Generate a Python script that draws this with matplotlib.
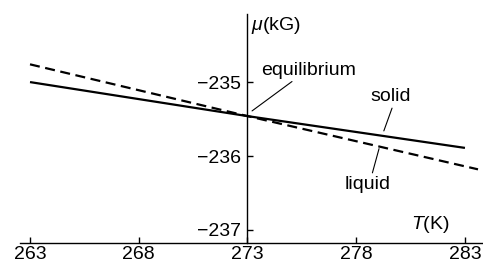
import matplotlib
matplotlib.use("Agg")
import matplotlib.pyplot as plt

plt.rcParams['font.family'] = ['Liberation Sans', 'DejaVu Sans']
plt.rcParams['mathtext.fontset'] = 'custom'
plt.rcParams['mathtext.it'] = 'Liberation Sans:italic'
plt.rcParams['mathtext.rm'] = 'Liberation Sans'

T_solid = [263, 273, 283]
mu_solid = [-235.00, -235.46, -235.89]
T_liquid = [263, 273, 283.6]
mu_liquid = [-234.76, -235.46, -236.18]
xticks = [263, 268, 273, 278, 283]
yticks = [-235, -236, -237]
ytick_labels = ['\u2212235', '\u2212236', '\u2212237']

fig = plt.figure(figsize=(4.83, 2.64), dpi=100)
ax = fig.add_axes([0, 0, 1, 1])
ax.set_xlim(261.62, 283.83)
ax.set_ylim(-237.46, -233.89)

ax.plot(T_solid, mu_solid, color='black', lw=1.6, solid_capstyle='butt')
ax.plot(T_liquid, mu_liquid, color='black', lw=1.6, dashes=(4.5, 2.5))

ax.spines['right'].set_visible(False)
ax.spines['top'].set_visible(False)
ax.spines['left'].set_position(('data', 273))
ax.spines['bottom'].set_position(('data', -237.18))
ax.spines['left'].set_bounds(-237.18, -234.08)
ax.spines['bottom'].set_bounds(262.54, 283.83)
for s in ('left', 'bottom'):
    ax.spines[s].set_linewidth(1.0)

ax.set_xticks(xticks)
ax.set_xticklabels([str(t) for t in xticks])
ax.set_yticks(yticks)
ax.set_yticklabels(ytick_labels)
ax.tick_params(axis='both', direction='in', length=4, width=1, labelsize=14)
ax.tick_params(axis='x', pad=2)
ax.tick_params(axis='y', pad=5)

ax.text(273.15, -234.24, r'$\mu$(kG)', fontsize=14, ha='left', va='center')
ax.text(280.5, -236.93, r'$T$(K)', fontsize=14, ha='left', va='center')

ax.annotate('equilibrium', xy=(273.21, -235.39), xytext=(273.65, -234.84),
            fontsize=14, ha='left', va='center',
            arrowprops=dict(arrowstyle='-', lw=0.8, color='black',
                            shrinkA=0, shrinkB=0,
                            relpos=(0.36, 0.0)))
ax.annotate('solid', xy=(279.27, -235.66), xytext=(279.6, -235.20),
            fontsize=14, ha='center', va='center',
            arrowprops=dict(arrowstyle='-', lw=0.8, color='black',
                            shrinkA=0, shrinkB=0, relpos=(0.55, 0.0)))
ax.annotate('liquid', xy=(279.05, -235.90), xytext=(278.54, -236.38),
            fontsize=14, ha='center', va='center',
            arrowprops=dict(arrowstyle='-', lw=0.8, color='black',
                            shrinkA=0, shrinkB=0, relpos=(0.58, 1.0)))

fig.savefig('out.png', dpi=100)
